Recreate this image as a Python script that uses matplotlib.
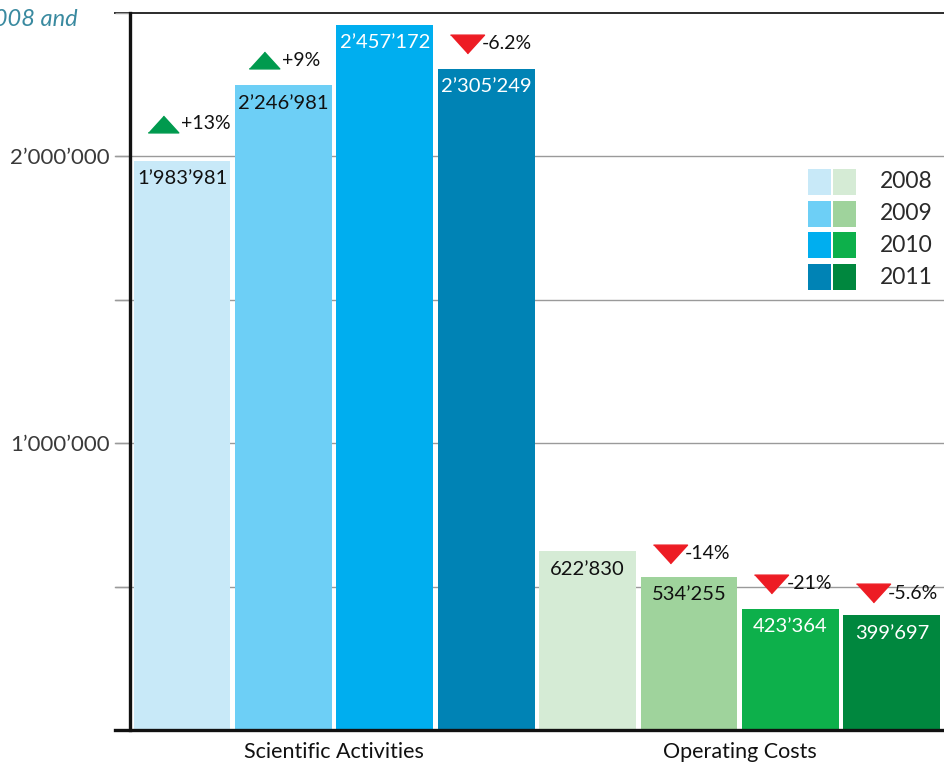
import matplotlib
matplotlib.use("Agg")
import matplotlib.pyplot as plt
from matplotlib.patches import Rectangle
from matplotlib.transforms import offset_copy
from matplotlib import font_manager

# ---------------- data ----------------
groups = ["Scientific Activities", "Operating Costs"]
years = ["2008", "2009", "2010", "2011"]
scientific = [1983981, 2246981, 2457172, 2305249]
operating = [622830, 534255, 423364, 399697]
sci_changes = ["+13%", "+9%", None, "-6.2%"]
op_changes = [None, "-14%", "-21%", "-5.6%"]
sci_change_dir = ["up", "up", None, "down"]
op_change_dir = [None, "down", "down", "down"]
ytick_values = [0, 500000, 1000000, 1500000, 2000000, 2500000]
ytick_labels = ["", "", "1\u2019000\u2019000", "", "2\u2019000\u2019000", ""]

# ---------------- style ----------------
blue = ["#C8E9F8", "#6DCFF6", "#00AEEF", "#0083B5"]
green = ["#D5EBD5", "#9FD39C", "#0DB04B", "#00873E"]
label_colors = ["#111111", "#111111", "white", "white"]
UP = "#009A4E"
DOWN = "#ED1C24"

avail = {f.name for f in font_manager.fontManager.ttflist}
FONT = "Lato" if "Lato" in avail else "DejaVu Sans"
plt.rcParams["font.family"] = [FONT, "DejaVu Sans"]

W, H = 944, 762
fig = plt.figure(figsize=(W / 100, H / 100), dpi=100)
ax_left, ax_right, ax_bottom, ax_top = 130, 944, 730, 12.7
ax = fig.add_axes([ax_left / W, 1 - ax_bottom / H, (ax_right - ax_left) / W,
                   (ax_bottom - ax_top) / H])

step_px = 101.4
x0 = -(182 - ax_left) / step_px
x1 = x0 + (ax_right - ax_left) / step_px
ax.set_xlim(x0, x1)
ax.set_ylim(0, 2500000)

def fmt(v):
    return f"{v:,}".replace(",", "\u2019")

values = scientific + operating
colors = blue + green
changes = sci_changes + op_changes
dirs = sci_change_dir + op_change_dir
lcolors = label_colors + label_colors
xs = list(range(len(values)))
bw = 0.955

# grid
for yv in ytick_values[1:]:
    top = yv == ytick_values[-1]
    ax.axhline(yv, xmin=-15 / (ax_right - ax_left), xmax=1,
               color="#2b2b2b" if top else "#9a9a9a",
               lw=1.4 if top else 1.0, zorder=0.5, clip_on=False)

ax.bar(xs, values, width=bw, color=colors, zorder=2, linewidth=0)

# value labels
for x, v, c in zip(xs, values, lcolors):
    ax.annotate(fmt(v), (x, v), xytext=(0, -18), textcoords="offset pixels",
                ha="center", va="center", fontsize=14.5, color=c, zorder=3)

# change markers
tri_up = [(-1, -0.55), (1, -0.55), (0, 0.55)]
tri_down = [(-1, 0.55), (1, 0.55), (0, -0.55)]
change_offsets = [37, 25, 0, 25, 0, 23, 25, 22]
for x, v, ch, d, off in zip(xs, values, changes, dirs, change_offsets):
    if ch is None:
        continue
    tr = offset_copy(ax.transData, fig=fig, x=-19, y=off, units="dots")
    if d == "up":
        ax.plot([x], [v], marker=tri_up, markersize=22, color=UP, transform=tr,
                clip_on=False, zorder=4, linestyle="none")
    else:
        ax.plot([x], [v], marker=tri_down, markersize=24.5, color=DOWN, transform=tr,
                clip_on=False, zorder=4, linestyle="none")
    ax.annotate(ch, (x, v), xytext=(-1 if d == "up" else -4, off), textcoords="offset pixels",
                ha="left", va="center", fontsize=14, color="#111111", zorder=4,
                annotation_clip=False)

# axes styling
ax.set_yticks(ytick_values)
ax.set_yticklabels(ytick_labels)
ax.tick_params(axis="y", length=10.8, width=1, color="#9a9a9a", pad=4,
               labelsize=16, labelcolor="#3a3a3a")
ax.set_xticks([])
for s in ["top", "right", "bottom"]:
    ax.spines[s].set_visible(False)
ax.spines["left"].set_linewidth(2.4)
ax.spines["left"].set_color("#111111")
ax.spines["left"].set_zorder(5)
ax.axhline(0, xmin=-15 / (ax_right - ax_left), xmax=1, color="#111111", lw=2.4,
           clip_on=False, zorder=5)

# group labels
for gi, g in enumerate(groups):
    cx = (4 * gi + 1.5)
    ax.annotate(g, (cx, 0), xytext=(0, -28), textcoords="offset pixels",
                ha="center", va="baseline", fontsize=15.5, color="#111111",
                annotation_clip=False)

# legend (drawn manually)
leg_top, leg_h, leg_step = 169, 26, 31.7
for i, yr in enumerate(years):
    top = leg_top + i * leg_step
    for xl, c in [(808, blue[i]), (833, green[i])]:
        fig.add_artist(Rectangle((xl / W, 1 - (top + leg_h) / H), 23 / W, leg_h / H,
                                 transform=fig.transFigure, color=c, lw=0))
    fig.text(880 / W, 1 - (top + leg_h / 2) / H, yr, ha="left", va="center",
             fontsize=16.5, color="#2a2a2a")

# cropped title fragment (reference image is cropped at the left edge)
fig.text(78 / W, 1 - 19 / H, "2008 and", ha="right", va="center", fontsize=17,
         style="italic", color="#3A8AA0")

fig.savefig("out.png", dpi=100)
